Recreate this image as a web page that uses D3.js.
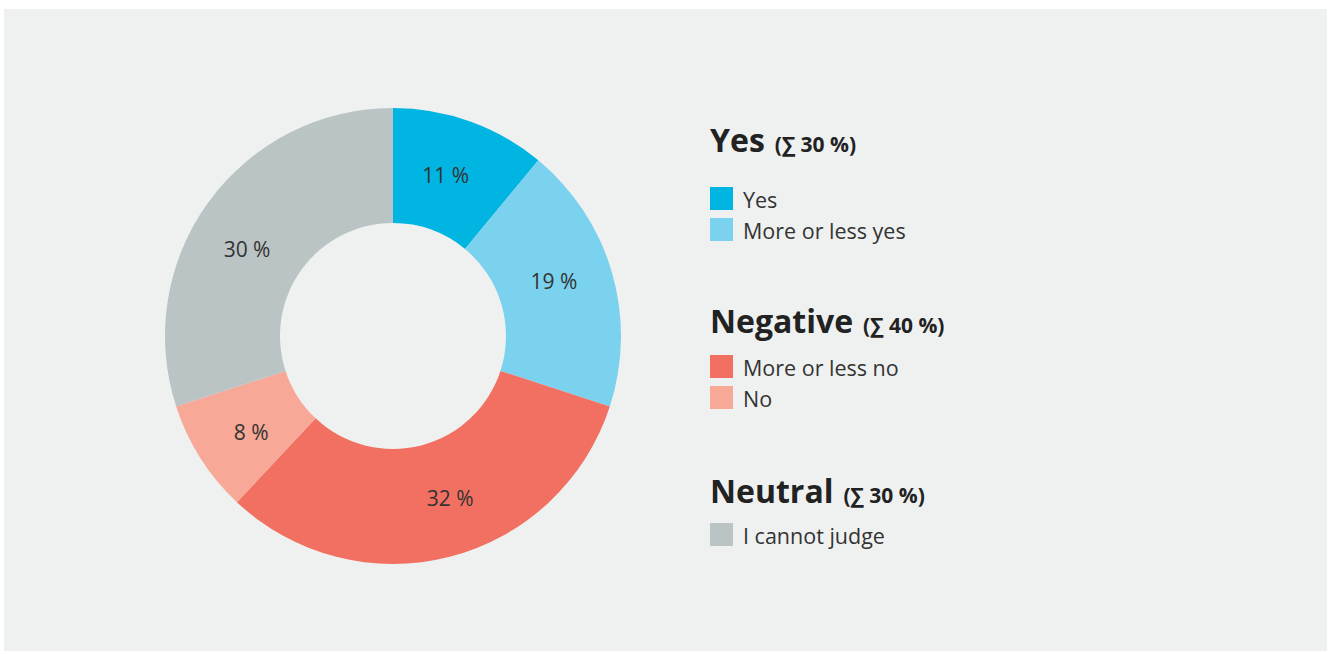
<!DOCTYPE html>
<html>
<head>
<meta charset="utf-8">
<script src="https://cdn.jsdelivr.net/npm/d3@7"></script>
<style>
  html, body { margin: 0; padding: 0; background: #ffffff; }
  svg { display: block; font-family: "Open Sans", sans-serif; }
</style>
</head>
<body>
<svg id="chart" width="1330" height="654"></svg>
<script>
// Survey answers, in drawing order (clockwise from 12 o'clock)
const answers = ["Yes", "More or less yes", "More or less no", "No", "I cannot judge"];
const shares  = [11, 19, 32, 8, 30];
const colors  = ["#00b5e2", "#7ad2ee", "#f27062", "#f7a896", "#bbc4c4"];

// Legend groups
const groupNames  = ["Yes", "Negative", "Neutral"];
const groupTotals = ["(∑ 30 %)", "(∑ 40 %)", "(∑ 30 %)"];
const groupItems  = [["Yes", "More or less yes"], ["More or less no", "No"], ["I cannot judge"]];

const svg = d3.select("#chart");

// Panel background
svg.append("rect")
  .attr("x", 4).attr("y", 9)
  .attr("width", 1323).attr("height", 642)
  .attr("fill", "#eff1f0");

const color = d3.scaleOrdinal().domain(answers).range(colors);

const cx = 393, cy = 336, outerR = 228, innerR = 113;
const labelR = (innerR + outerR) / 2;

const pie = d3.pie().sort(null).value(d => d.v);
const arcs = pie(answers.map((a, i) => ({ name: a, v: shares[i] })));
const arc = d3.arc().innerRadius(innerR).outerRadius(outerR);

const donut = svg.append("g").attr("transform", `translate(${cx},${cy})`);

donut.selectAll("path")
  .data(arcs)
  .join("path")
  .attr("d", arc)
  .attr("fill", d => color(d.data.name));

// Value labels sit a little before the middle of each slice
const labelPos = d => {
  const a = d.startAngle + 0.455 * (d.endAngle - d.startAngle);
  return [labelR * Math.sin(a), -labelR * Math.cos(a) + 1];
};

donut.selectAll("text")
  .data(arcs)
  .join("text")
  .attr("transform", d => `translate(${labelPos(d)})`)
  .attr("text-anchor", "middle")
  .attr("dominant-baseline", "central")
  .attr("font-size", 21)
  .attr("fill", "#333333")
  .text(d => `${d.data.v} %`);

// Legend
const legendX = 710;
const titleBaselines = [152, 333, 503];
const firstSwatchTop = [187, 355, 523];
const legend = svg.append("g");

groupNames.forEach((g, gi) => {
  const title = legend.append("text")
    .attr("x", legendX).attr("y", titleBaselines[gi])
    .attr("fill", "#222222")
    .attr("font-weight", 700);
  title.append("tspan").attr("font-size", 32).text(g);
  title.append("tspan").attr("font-size", 21).attr("dx", 10).text(groupTotals[gi]);

  groupItems[gi].forEach((item, ii) => {
    const top = firstSwatchTop[gi] + ii * 31;
    legend.append("rect")
      .attr("x", legendX).attr("y", top)
      .attr("width", 23).attr("height", 23)
      .attr("fill", color(item));
    legend.append("text")
      .attr("x", legendX + 33).attr("y", top + 21)
      .attr("font-size", 21.5)
      .attr("fill", "#333333")
      .text(item);
  });
});
</script>
</body>
</html>
